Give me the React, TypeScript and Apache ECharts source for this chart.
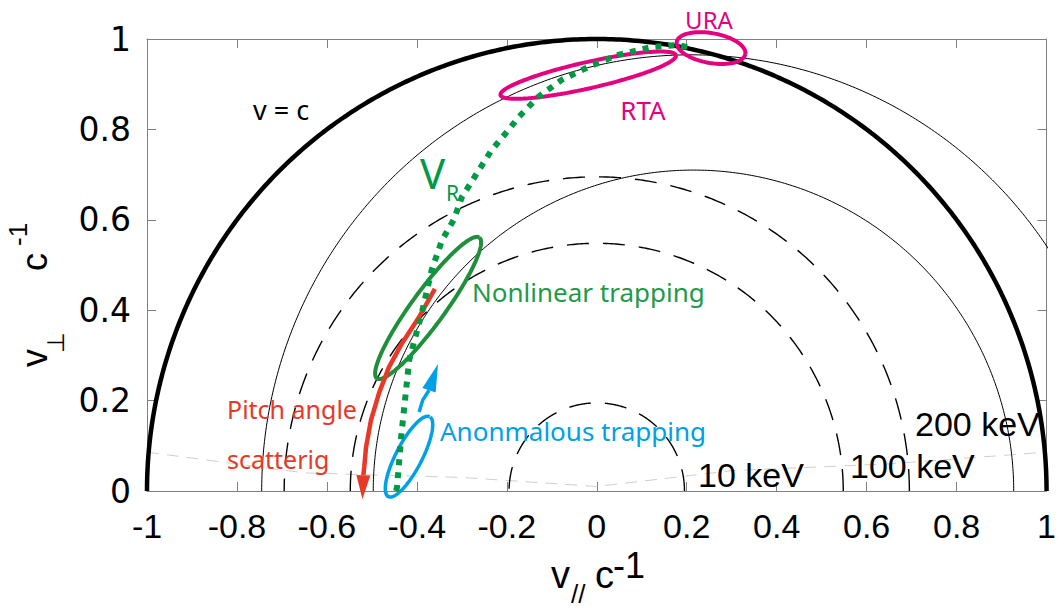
import React, { useEffect, useRef } from "react";
import * as echarts from "echarts";

// ---------- data ----------
const X_MIN = -1, X_MAX = 1, Y_MIN = 0, Y_MAX = 1, TICK_STEP = 0.2;

// v = c circle
const lightRadius = 1;
// iso-energy circles (v/c radius)
const energyLabels = ["10 keV", "100 keV", "200 keV"];
const energyRadii = [0.195, 0.548, 0.695];
// resonance ellipses (thin solid): centre on v// axis, semi-axes
const resonanceCenter = [0.215, 0.21];
const resonanceSemiX = [0.712, 0.955];
const resonanceSemiY = [0.71, 0.965];

// resonance velocity V_R (green dotted)
const vrX = [-0.446, -0.444, -0.435, -0.417, -0.389, -0.367, -0.344, -0.318, -0.300, -0.262, -0.234, -0.196, -0.174, -0.130, -0.079, -0.019, 0.048, 0.121, 0.180, 0.209];
const vrY = [0.000, 0.009, 0.119, 0.290, 0.394, 0.489, 0.555, 0.600, 0.650, 0.710, 0.754, 0.799, 0.827, 0.872, 0.909, 0.938, 0.965, 0.982, 0.987, 0.980];

// pitch-angle scattering arrow (red), last point = arrow tip
const pitchX = [-0.360, -0.395, -0.433, -0.462, -0.484, -0.502, -0.513, -0.517, -0.519, -0.521];
const pitchY = [0.447, 0.385, 0.327, 0.274, 0.217, 0.157, 0.097, 0.053, 0.035, -0.018];

// anomalous trapping arrow (blue), last point = arrow tip
const anomX = [-0.395, -0.387, -0.373, -0.353];
const anomY = [0.175, 0.201, 0.223, 0.281];

// faint grey dashed trace near the bottom
const faintX = [-1, -0.65, -0.3, 0, 0.3, 0.65, 1];
const faintY = [0.086, 0.04, 0.03, 0.01, 0.045, 0.06, 0.086];

// annotation ellipses
const regionNames = ["URA", "RTA", "Nonlinear trapping", "Anonmalous trapping"];
const regionCX = [0.254, -0.019, -0.375, -0.4175];
const regionCY = [0.980, 0.920, 0.405, 0.076];
const regionA = [0.0775, 0.200, 0.193, 0.0997];
const regionB = [0.033, 0.029, 0.037, 0.029];
const regionTilt = [-10, 12.7, 53.8, 62.5];
const regionColors = ["#e4007f", "#e4007f", "#1f8f3c", "#00a0e9"];
const regionWidths = [4, 4, 4, 3.5];

// ---------- helpers ----------
function upperArc(cx: number, a: number, b: number, steps = 360) {
  const pts: number[][] = [];
  for (let i = 0; i <= steps; i++) {
    const t = (Math.PI * i) / steps;
    pts.push([cx + a * Math.cos(t), b * Math.sin(t)]);
  }
  return pts;
}
function tiltedEllipse(cx: number, cy: number, a: number, b: number, deg: number, steps = 160) {
  const th = (deg * Math.PI) / 180;
  const pts: number[][] = [];
  for (let i = 0; i <= steps; i++) {
    const t = (2 * Math.PI * i) / steps;
    const x = a * Math.cos(t), y = b * Math.sin(t);
    pts.push([cx + x * Math.cos(th) - y * Math.sin(th), cy + x * Math.sin(th) + y * Math.cos(th)]);
  }
  return pts;
}
const zip = (xs: number[], ys: number[]) => xs.map((x, i) => [x, ys[i]]);

const SANS = '"Noto Sans", "Open Sans", sans-serif';
const HELV = '"Liberation Sans", Arial, sans-serif';
const AXIS_GREY = "#808080";

export default function App() {
  const ref = useRef<HTMLDivElement>(null);
  useEffect(() => {
    if (!ref.current) return;
    const chart = echarts.init(ref.current, null, { renderer: "svg" });

    const lineBase = { type: "line", showSymbol: false, symbol: "none", silent: true, smooth: false };
    const series: any[] = [];

    series.push({ ...lineBase, name: "faint", data: zip(faintX, faintY), lineStyle: { color: "#cfcfcf", width: 1, type: [12, 8] }, z: 1 });

    energyRadii.forEach((r, i) => {
      series.push({ ...lineBase, name: energyLabels[i], data: upperArc(0, r, r), lineStyle: { color: "#000", width: 1.4, type: [22, 14] }, z: 2 });
    });
    resonanceCenter.forEach((c, i) => {
      series.push({ ...lineBase, name: "resonance" + i, data: upperArc(c, resonanceSemiX[i], resonanceSemiY[i]), lineStyle: { color: "#000", width: 1 }, z: 2 });
    });
    series.push({ ...lineBase, name: "v = c", data: upperArc(0, lightRadius, lightRadius), clip: false, lineStyle: { color: "#000", width: 4.5 }, z: 3 });

    regionNames.forEach((n, i) => {
      series.push({ ...lineBase, name: n, data: tiltedEllipse(regionCX[i], regionCY[i], regionA[i], regionB[i], regionTilt[i]), clip: false, lineStyle: { color: regionColors[i], width: regionWidths[i] }, z: 4 });
    });

    const pitchPts = zip(pitchX, pitchY);
    const anomPts = zip(anomX, anomY);
    series.push({ ...lineBase, name: "pitch", data: pitchPts.slice(0, -1), clip: false, lineStyle: { color: "#e83828", width: 4.5 }, z: 5 });
    series.push({ ...lineBase, name: "anom", data: anomPts.slice(0, -1), clip: false, lineStyle: { color: "#00a0e9", width: 3.5 }, z: 5 });

    const arrowHead = (name: string, pts: number[][], color: string, half: number) => ({
      type: "custom", name, silent: true, z: 6, clip: false,
      data: [[pts[pts.length - 2][0], pts[pts.length - 2][1], pts[pts.length - 1][0], pts[pts.length - 1][1]]],
      renderItem: (_p: any, api: any) => {
        const b = api.coord([api.value(0), api.value(1)]);
        const t = api.coord([api.value(2), api.value(3)]);
        const dx = t[0] - b[0], dy = t[1] - b[1];
        const len = Math.hypot(dx, dy) || 1;
        const px = (-dy / len) * half, py = (dx / len) * half;
        return {
          type: "polygon",
          shape: { points: [t, [b[0] + px, b[1] + py], [b[0] - px, b[1] - py]] },
          style: { fill: color },
        };
      },
    });
    series.push(arrowHead("pitchHead", pitchPts, "#e83828", 7));
    series.push(arrowHead("anomHead", anomPts, "#00a0e9", 7));

    series.push({ ...lineBase, name: "V_R", data: zip(vrX, vrY), clip: false, lineStyle: { color: "#009944", width: 6, type: [6, 7], cap: "butt" }, z: 7 });

    const txt = (text: string, x: number, y: number, fill: string, fontSize: number, fontFamily = SANS, align = "left") => ({
      type: "text", x, y, silent: true, z: 100,
      style: { text, fill, fontSize, fontFamily, align, verticalAlign: "middle" },
    });

    const option: any = {
      animation: false,
      backgroundColor: "#ffffff",
      grid: { left: 147, top: 39, width: 903, height: 452, containLabel: false },
      xAxis: [
        {
          type: "value", min: X_MIN, max: X_MAX, interval: TICK_STEP, position: "bottom",
          axisLine: { show: true, onZero: false, lineStyle: { color: AXIS_GREY, width: 1 } },
          axisTick: { show: true, inside: true, length: 9, lineStyle: { color: AXIS_GREY } },
          axisLabel: { fontSize: 34, fontFamily: HELV, color: "#000", margin: 18, showMinLabel: true, showMaxLabel: true,
            formatter: (v: number) => String(Math.round(v * 10) / 10) },
          splitLine: { show: false },
        },
        {
          type: "value", min: X_MIN, max: X_MAX, interval: TICK_STEP, position: "top",
          axisLine: { show: true, onZero: false, lineStyle: { color: AXIS_GREY, width: 1 } },
          axisTick: { show: true, inside: true, length: 9, lineStyle: { color: AXIS_GREY } },
          axisLabel: { show: false }, splitLine: { show: false },
        },
      ],
      yAxis: [
        {
          type: "value", min: Y_MIN, max: Y_MAX, interval: TICK_STEP, position: "left",
          axisLine: { show: true, onZero: false, lineStyle: { color: AXIS_GREY, width: 1 } },
          axisTick: { show: true, inside: true, length: 9, lineStyle: { color: AXIS_GREY } },
          axisLabel: { fontSize: 33, fontFamily: '"DejaVu Sans", sans-serif', color: "#000", margin: 16, showMinLabel: true, showMaxLabel: true,
            formatter: (v: number) => String(Math.round(v * 10) / 10) },
          splitLine: { show: false },
        },
        {
          type: "value", min: Y_MIN, max: Y_MAX, interval: TICK_STEP, position: "right",
          axisLine: { show: true, onZero: false, lineStyle: { color: AXIS_GREY, width: 1 } },
          axisTick: { show: true, inside: true, length: 9, lineStyle: { color: AXIS_GREY } },
          axisLabel: { show: false }, splitLine: { show: false },
        },
      ],
      series,
      graphic: [
        txt("URA", 709, 19, "#e4007f", 24, SANS, "center"),
        txt("RTA", 643, 110, "#e4007f", 26, SANS, "center"),
        txt("v = c", 253, 109, "#000", 27),
        txt("V", 420, 172, "#009944", 42),
        txt("R", 446, 193, "#009944", 21),
        txt("Nonlinear trapping", 472, 292, "#1f9a48", 26),
        txt("Anonmalous trapping", 440, 431, "#00a0e9", 26),
        txt("Pitch angle", 227, 409, "#e83828", 25),
        txt("scatterig", 227, 459, "#e83828", 25),
        txt(energyLabels[0], 698, 475, "#000", 34, HELV),
        txt(energyLabels[1], 850, 466, "#000", 34, HELV),
        txt(energyLabels[2], 915, 424, "#000", 34, HELV),
        // x-axis title: v// c^-1
        txt("v", 551, 575, "#000", 38, HELV),
        txt("//", 571, 594, "#000", 26, HELV),
        txt("c", 595, 575, "#000", 38, HELV),
        txt("-1", 613, 565, "#000", 36, HELV),
        // y-axis title: v⊥ c^-1 (rotated)
        {
          type: "group", x: 47, y: 367, rotation: Math.PI / 2, silent: true, z: 100,
          children: [
            { type: "text", x: 0, y: -12.5, style: { text: "v", fill: "#000", fontSize: 36, fontFamily: HELV, align: "left", verticalAlign: "middle" } },
            { type: "text", x: 14, y: 9, style: { text: "⊥", fill: "#000", fontSize: 24, fontFamily: '"DejaVu Sans", sans-serif', align: "left", verticalAlign: "middle" } },
            { type: "text", x: 96, y: -12.5, style: { text: "c", fill: "#000", fontSize: 36, fontFamily: HELV, align: "left", verticalAlign: "middle" } },
            { type: "text", x: 121, y: -29, style: { text: "-1", fill: "#000", fontSize: 26, fontFamily: HELV, align: "left", verticalAlign: "middle" } },
          ],
        },
      ],
    };
    chart.setOption(option);
    return () => chart.dispose();
  }, []);
  return <div ref={ref} style={{ position: "absolute", left: 0, top: 0, width: 1059, height: 608, background: "#fff" }} />;
}
